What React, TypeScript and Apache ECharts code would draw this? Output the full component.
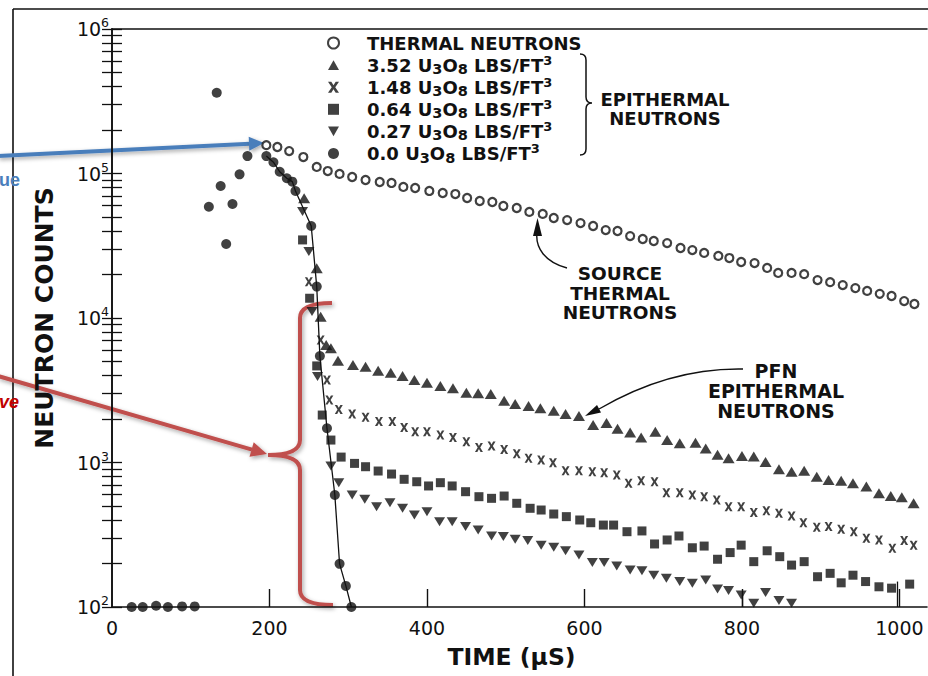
import React, { useEffect, useRef } from 'react';
import * as echarts from 'echarts';

// ---------- data: [time µs, counts] ----------
const thermalNeutrons: [number, number][] = [
  [196, 157000], [210, 152500], [225, 143000], [243, 130000], [260, 111000], [274, 104000],
  [289, 99300], [305, 94600], [322, 90200], [340, 87300], [355, 86000], [370, 80700],
  [385, 79400], [403, 75700], [420, 73300], [436, 72100], [451, 67700], [467, 64500],
  [483, 63500], [497, 59600], [514, 57700], [530, 54200], [547, 52500], [561, 49200],
  [578, 47600], [595, 45400], [611, 43300], [627, 40600], [642, 40000], [658, 36900],
  [674, 35200], [688, 34100], [705, 33000], [722, 30500], [737, 29500], [752, 28200],
  [770, 26900], [784, 26000], [799, 24400], [816, 24000], [832, 22200], [846, 20500],
  [863, 20500], [879, 20100], [896, 18300], [912, 17700], [928, 16900], [944, 16100],
  [959, 15400], [975, 14700], [990, 14200], [1006, 13100], [1019, 12500],
];

const u352: [number, number][] = [
  [244, 67300], [260, 22100], [265, 10200], [272, 6500], [278, 6170], [287, 5070],
  [306, 4730], [322, 4600], [338, 4310], [354, 4180], [369, 3970], [384, 3720],
  [400, 3570], [417, 3380], [433, 3260], [450, 3040], [465, 3010], [481, 2980],
  [498, 2680], [512, 2540], [529, 2460], [544, 2370], [561, 2280], [576, 2170],
  [593, 2100], [611, 1820], [628, 1880], [642, 1710], [658, 1610], [672, 1490],
  [690, 1630], [705, 1430], [721, 1360], [741, 1370], [754, 1250], [769, 1130],
  [783, 1070], [800, 1110], [815, 1100], [830, 1010], [847, 898], [863, 863],
  [879, 877], [895, 798], [910, 757], [926, 749], [941, 718], [958, 681],
  [974, 612], [989, 586], [1003, 574], [1018, 522],
];

const u148: [number, number][] = [
  [250, 17800], [265, 7050], [273, 3720], [276, 2710], [288, 2330], [305, 2170],
  [322, 2060], [339, 1920], [356, 1920], [371, 1750], [385, 1630], [400, 1630],
  [417, 1550], [433, 1490], [450, 1390], [466, 1270], [482, 1300], [498, 1230],
  [514, 1150], [529, 1070], [545, 1040], [560, 997], [576, 877], [593, 877],
  [610, 863], [625, 849], [641, 819], [656, 718], [672, 749], [689, 736],
  [704, 618], [721, 618], [737, 596], [752, 580], [768, 550], [783, 494],
  [799, 494], [815, 450], [831, 464], [847, 445], [863, 426], [878, 383],
  [895, 356], [910, 360], [926, 345], [942, 332], [958, 299], [974, 291],
  [991, 255], [1006, 288], [1018, 268],
];

const u064: [number, number][] = [
  [242, 34700], [251, 13700], [260, 4660], [267, 2130], [278, 1430], [291, 1090],
  [308, 986], [322, 935], [338, 873], [355, 832], [371, 765], [387, 736],
  [402, 688], [417, 725], [432, 688], [449, 628], [466, 580], [482, 565],
  [498, 586], [514, 522], [531, 482], [545, 469], [561, 440], [577, 422],
  [594, 400], [608, 383], [624, 369], [637, 369], [654, 332], [673, 336],
  [689, 273], [705, 291], [720, 310], [737, 257], [752, 264], [769, 214],
  [785, 238], [799, 268], [815, 206], [832, 245], [848, 223], [863, 195],
  [879, 206], [896, 162], [912, 171], [926, 147], [941, 166], [957, 150],
  [974, 138], [990, 135], [1013, 144],
];
const u064Drop: [number, number][] = [[997, 150], [997, 100]];

const u027: [number, number][] = [
  [242, 54500], [250, 28800], [254, 11100], [261, 3930], [278, 946], [288, 725],
  [305, 596], [321, 556], [336, 494], [353, 527], [369, 482], [384, 433],
  [400, 457], [416, 389], [432, 389], [449, 360], [465, 341], [482, 310],
  [497, 307], [512, 294], [528, 288], [545, 268], [561, 259], [576, 245],
  [593, 229], [610, 203], [625, 203], [641, 192], [658, 180], [673, 178],
  [688, 166], [704, 158], [721, 150], [737, 146], [754, 154], [769, 133],
  [783, 130], [799, 121], [815, 106], [830, 126], [847, 111], [863, 106],
];
const u027Drop: [number, number][] = [[800, 121], [800, 100]];

const u000Baseline: [number, number][] = [
  [25, 100], [39, 100], [56, 102], [71, 100], [89, 101], [105, 101],
];
const u000Early: [number, number][] = [
  [123, 58900], [133, 362000], [138, 81900], [145, 32500], [153, 61500], [162, 98700], [172, 132000],
];
const u000Decay: [number, number][] = [
  [196, 132000], [205, 119700], [213, 102800], [222, 92700], [229, 87800], [233, 75700],
  [253, 43300], [260, 16500], [264, 5460], [273, 1727], [283, 596], [289, 199],
  [297, 140], [304, 100],
];

const seriesNames = [
  'THERMAL NEUTRONS',
  '3.52 U3O8 LBS/FT3',
  '1.48 U3O8 LBS/FT3',
  '0.64 U3O8 LBS/FT3',
  '0.27 U3O8 LBS/FT3',
  '0.0 U3O8 LBS/FT3',
];

const xLabelValues = [0, 200, 400, 600, 800, 1000];
const xTickValues = [200, 400, 600, 800, 1000];
const yDecades = [100, 1000, 10000, 100000, 1000000];
const yMantissas = [1, 2, 3, 4, 5, 6, 7, 8, 9];

// ---------- styling ----------
const FONT = '"DejaVu Sans", Verdana, sans-serif';
const INK = '#111';
const BLUE = '#4a7ebb';
const RED = '#c0504d';

const yTickValues = yDecades
  .flatMap((d) => yMantissas.map((m) => m * d))
  .filter((v) => v <= 1000000);

const symTriUp = 'path://M5,0L10,9L0,9Z';
const symTriDown = 'path://M0,0L10,0L5,9Z';
const symX = 'path://M0,0L3,0L5,3.2L7,0L10,0L6.6,5L10,10L7,10L5,6.8L3,10L0,10L3.4,5Z';

function legendFormatter(name: string): string {
  const m = name.match(/^([\d.]+) U3O8 LBS\/FT3$/);
  if (m) return `{pad|}{b|${m[1]} U}{sub|3}{b|O}{sub|8}{b| LBS/FT}{sup|3}`;
  // same vertical structure as the other rows (blank sub/sup) so every row has equal height
  return `{pad|}{b|${name}}{sub| }{sup| }`;
}

function registerShapes() {
  const redBrace =
    'M332 303 Q300 303 300 318 L300 440 Q300 455 268 455 Q300 455 300 470 L300 590 Q300 605 333 605';
  const legendBrace =
    'M580 54 Q586 54 586 60 L586 97 Q586 103 592 103 Q586 103 586 109 L586 149 Q586 155 580 155';
  echarts.graphic.registerShape('redBrace', echarts.graphic.extendPath(redBrace, {}));
  echarts.graphic.registerShape('legendBrace', echarts.graphic.extendPath(legendBrace, {}));
}

function buildOption(): any {
  const axisLine = { show: true, lineStyle: { color: INK, width: 1.6 } };
  const text = (t: string, x: number, y: number, size = 18, lh = 19) => ({
    type: 'text',
    style: {
      text: t, x, y, fill: INK, font: `bold ${size}px ${FONT}`,
      textAlign: 'center', textVerticalAlign: 'top', lineHeight: lh,
    },
  });
  const shadow = { shadowBlur: 4, shadowColor: 'rgba(0,0,0,0.35)', shadowOffsetX: 1.5, shadowOffsetY: 2 };

  const scatterBase = {
    type: 'scatter',
    itemStyle: { color: INK },
    z: 3,
  };

  const legendText = { fontFamily: FONT, fontWeight: 'bold', color: INK };

  return {
    animation: false,
    backgroundColor: '#fff',
    grid: { left: 112, right: 1, top: 29, bottom: 69 },
    xAxis: [
      {
        type: 'value', min: 0, max: 1035, position: 'bottom',
        axisLine,
        axisTick: { show: true, inside: true, length: 18, customValues: xTickValues, lineStyle: { color: INK, width: 1.4 } },
        axisLabel: {
          customValues: xLabelValues, color: INK, fontFamily: FONT, fontSize: 19, margin: 11,
          formatter: (v: number) => String(v),
        },
        splitLine: { show: false },
        name: 'TIME (\u03bcS)', nameLocation: 'middle', nameGap: 38,
        nameTextStyle: { color: INK, fontFamily: FONT, fontWeight: 'bold', fontSize: 23.5, padding: [0, 16, 0, 0] },
      },
      {
        type: 'value', min: 0, max: 1035, position: 'top',
        axisLine, axisTick: { show: false }, axisLabel: { show: false }, splitLine: { show: false },
      },
    ],
    yAxis: [
      {
        type: 'log', logBase: 10, min: 100, max: 1000000, position: 'left',
        axisLine,
        axisTick: { show: true, inside: true, length: 10, customValues: yTickValues, lineStyle: { color: INK, width: 1.3 } },
        axisLabel: {
          customValues: yDecades,
          color: INK, fontFamily: FONT, fontSize: 19, margin: 3,
          formatter: (v: number) => `10{sup|${Math.round(Math.log10(v))}}`,
          rich: { sup: { fontFamily: FONT, fontSize: 12.5, color: INK, padding: [0, 0, 13, 0], lineHeight: 18 } },
        },
        splitLine: { show: false },
        name: 'NEUTRON COUNTS', nameLocation: 'middle', nameGap: 55,
        nameTextStyle: { color: INK, fontFamily: FONT, fontWeight: 'bold', fontSize: 25 },
      },
      {
        type: 'log', logBase: 10, min: 100, max: 1000000, position: 'right',
        axisLine,
        axisTick: { show: true, inside: true, length: 10, customValues: yTickValues, lineStyle: { color: INK, width: 1.3 } },
        axisLabel: { show: false },
        splitLine: { show: false },
      },
    ],
    legend: {
      data: seriesNames,
      orient: 'vertical', left: 327, top: 31.5, padding: 0,
      itemWidth: 11, itemHeight: 11, itemGap: -0.9,
      selectedMode: false,
      formatter: legendFormatter,
      textStyle: {
        ...legendText, fontSize: 18,
        rich: {
          pad: { width: 23, height: 18, lineHeight: 18 },
          b: { ...legendText, fontSize: 18, lineHeight: 18 },
          sub: { ...legendText, fontSize: 14.5, height: 10, lineHeight: 10, verticalAlign: 'bottom' },
          sup: { ...legendText, fontSize: 13, height: 8, lineHeight: 8, verticalAlign: 'top' },
        },
      },
    },
    series: [
      {
        ...scatterBase, name: seriesNames[0], data: thermalNeutrons,
        symbol: 'circle', symbolSize: 8,
        itemStyle: { color: '#fff', borderColor: INK, borderWidth: 2.2 },
      },
      { ...scatterBase, name: seriesNames[1], data: u352, symbol: symTriUp, symbolSize: [12, 10] },
      { ...scatterBase, name: seriesNames[2], data: u148, symbol: symX, symbolSize: [8, 9] },
      {
        ...scatterBase, name: seriesNames[3], data: u064, symbol: 'rect', symbolSize: 9,
        markLine: {
          silent: true, symbol: 'none', label: { show: false },
          lineStyle: { color: INK, width: 1.3, type: 'solid' },
          data: [[{ coord: u064Drop[0] }, { coord: u064Drop[1] }]],
        },
      },
      {
        ...scatterBase, name: seriesNames[4], data: u027, symbol: symTriDown, symbolSize: [11, 9],
        markLine: {
          silent: true, symbol: 'none', label: { show: false },
          lineStyle: { color: INK, width: 1.3, type: 'solid' },
          data: [[{ coord: u027Drop[0] }, { coord: u027Drop[1] }]],
        },
      },
      {
        ...scatterBase, name: seriesNames[5], data: [...u000Baseline, ...u000Early, ...u000Decay],
        symbol: 'circle', symbolSize: 10,
      },
      {
        type: 'line', name: 'fit', data: u000Decay, showSymbol: false, symbol: 'none',
        lineStyle: { color: INK, width: 1.3 }, z: 2, silent: true,
      },
    ],
    graphic: [
      // scan frame
      { type: 'line', shape: { x1: 13, y1: 9, x2: 928, y2: 9 }, style: { stroke: INK, lineWidth: 1.6 } },
      { type: 'line', shape: { x1: 13, y1: 9, x2: 13, y2: 676 }, style: { stroke: INK, lineWidth: 1.6 } },
      // legend brace + label
      { type: 'legendBrace', style: { fill: 'none', stroke: INK, lineWidth: 1.5 } },
      text('EPITHERMAL\nNEUTRONS', 665, 90, 18, 19),
      // source thermal annotation
      text('SOURCE\nTHERMAL\nNEUTRONS', 620, 264, 18.5, 19.5),
      {
        type: 'bezierCurve',
        shape: { x1: 567, y1: 268, cpx1: 545, cpy1: 262, cpx2: 535, cpy2: 248, x2: 537, y2: 232 },
        style: { fill: 'none', stroke: INK, lineWidth: 1.4 },
      },
      { type: 'polygon', shape: { points: [[537.5, 218], [533, 236], [542, 236]] }, style: { fill: INK } },
      // PFN annotation
      text('PFN\nEPITHERMAL\nNEUTRONS', 776, 361, 19, 20),
      {
        type: 'bezierCurve',
        shape: { x1: 743, y1: 369, cpx1: 690, cpy1: 368, cpx2: 640, cpy2: 385, x2: 599, y2: 409 },
        style: { fill: 'none', stroke: INK, lineWidth: 1.4 },
      },
      { type: 'polygon', shape: { points: [[585, 416], [601, 412.5], [597, 405]] }, style: { fill: INK } },
      // blue annotation arrow
      {
        type: 'line', shape: { x1: -2, y1: 156, x2: 250, y2: 143.8 },
        style: { stroke: BLUE, lineWidth: 4, ...shadow },
      },
      {
        type: 'polygon', shape: { points: [[264, 143], [249.3, 150.7], [248.7, 136.7]] },
        style: { fill: BLUE, ...shadow },
      },
      {
        type: 'text',
        style: { text: 'ue', x: -1, y: 180, fill: BLUE, font: `bold 18px "Liberation Sans", Arial, sans-serif`, textVerticalAlign: 'middle' },
      },
      // red annotation arrow + brace
      {
        type: 'line', shape: { x1: -2, y1: 376, x2: 252, y2: 449.6 },
        style: { stroke: RED, lineWidth: 4, ...shadow },
      },
      {
        type: 'polygon', shape: { points: [[267, 454], [249.5, 456.7], [253.7, 442.3]] },
        style: { fill: RED, ...shadow },
      },
      {
        type: 'text',
        style: { text: 've', x: -1, y: 402, fill: '#c00000', font: `italic bold 18px "Liberation Sans", Arial, sans-serif`, textVerticalAlign: 'middle' },
      },
      { type: 'redBrace', style: { fill: 'none', stroke: RED, lineWidth: 4, ...shadow } },
    ],
  };
}

export default function App() {
  const ref = useRef<HTMLDivElement>(null);
  useEffect(() => {
    if (!ref.current) return;
    registerShapes();
    const chart = echarts.init(ref.current, null, { renderer: 'svg' });
    chart.setOption(buildOption());
    return () => chart.dispose();
  }, []);
  return (
    <div
      ref={ref}
      style={{ position: 'fixed', left: 0, top: 0, width: 928, height: 676, background: '#fff' }}
    />
  );
}
